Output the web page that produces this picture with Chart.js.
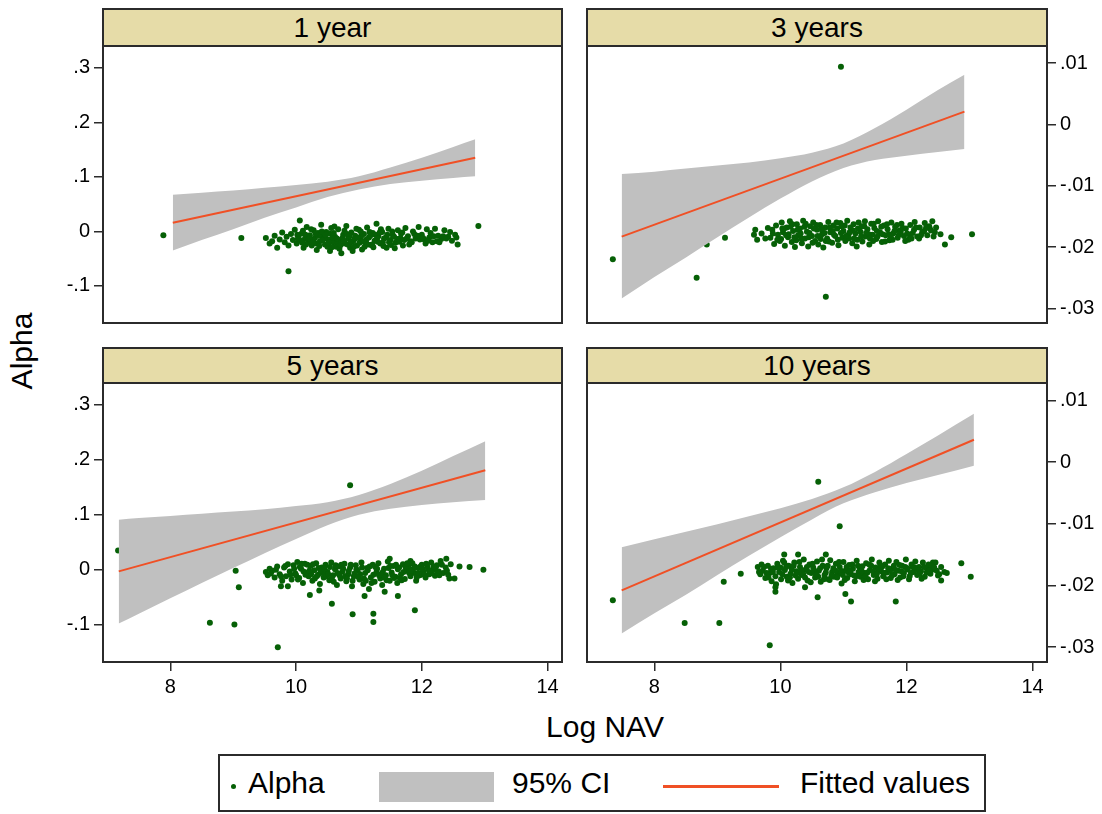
<!DOCTYPE html>
<html>
<head>
<meta charset="utf-8">
<script src="https://cdn.jsdelivr.net/npm/chart.js@4.4.1/dist/chart.umd.min.js"></script>
<style>
  body { margin: 0; background: #fff; width: 1102px; height: 814px; position: relative; overflow: hidden;
         font-family: "Liberation Sans", Arial, Helvetica, sans-serif; color: #000; }
  .box { position: absolute; line-height: 0; }
  .box canvas { display: block; }
  .strip { position: absolute; background: #e6dca8; border: 2px solid #2b2b2b; box-sizing: border-box;
           text-align: center; font-size: 28px; }
  .legend { position: absolute; left: 218px; top: 754px; width: 768px; height: 58px; border: 2px solid #2b2b2b;
            box-sizing: border-box; font-size: 30px; }
  .legend div { position: absolute; }
  .legend .txt { top: 0; line-height: 54px; }
</style>
</head>
<body>

<div class="strip" style="left:102px;top:8px;width:461px;height:39px;line-height:35px" id="t0"></div>
<div class="strip" style="left:586px;top:8px;width:462px;height:39px;line-height:35px" id="t1"></div>
<div class="strip" style="left:102px;top:347px;width:461px;height:37px;line-height:33px" id="t2"></div>
<div class="strip" style="left:586px;top:347px;width:462px;height:37px;line-height:33px" id="t3"></div>

<div class="box" style="left:40px;top:40px"><canvas id="c0" width="530" height="290"></canvas></div>
<div class="box" style="left:580px;top:40px"><canvas id="c1" width="522" height="290"></canvas></div>
<div class="box" style="left:40px;top:377px"><canvas id="c2" width="530" height="330"></canvas></div>
<div class="box" style="left:580px;top:377px"><canvas id="c3" width="522" height="330"></canvas></div>

<div class="box" style="left:-78px;top:334px;width:200px;height:34px;line-height:34px;text-align:center;font-size:30px;transform:rotate(-90deg)">Alpha</div>
<div class="box" style="left:505px;top:710px;width:200px;height:34px;line-height:34px;text-align:center;font-size:30px">Log NAV</div>

<div class="legend">
  <div style="left:11px;top:28px;width:5px;height:5px;border-radius:50%;background:#066006"></div>
  <div class="txt" style="left:28px">Alpha</div>
  <div style="left:159px;top:16px;width:115px;height:30px;background:#c0c0c0"></div>
  <div class="txt" style="left:292px">95% CI</div>
  <div style="left:443px;top:29px;width:116px;height:2.5px;background:#f05025"></div>
  <div class="txt" style="left:580px">Fitted values</div>
</div>

<script>
const panelTitles = ['1 year', '3 years', '5 years', '10 years'];

const xTicks = [8, 10, 12, 14];
const xTickLabels = ['8', '10', '12', '14'];
const yTicksLeft = [-0.1, 0, 0.1, 0.2, 0.3];
const yTickLabelsLeft = ['-.1', '0', '.1', '.2', '.3'];
const yTicksRight = [-0.03, -0.02, -0.01, 0, 0.01];
const yTickLabelsRight = ['-.03', '-.02', '-.01', '0', '.01'];

// scatter points [log NAV, alpha]
const alpha1y = [
  [7.89,-0.007],[9.13,-0.012],[9.88,-0.073],[12.90,0.010],
  [9.52,-0.012],[9.58,-0.022],[9.62,-0.018],[9.66,-0.008],[9.70,-0.030],[9.74,-0.015],[9.78,-0.002],[9.82,-0.020],
  [9.85,-0.010],[9.88,-0.026],[9.92,-0.005],[9.95,-0.016],[9.98,0.003],[10.01,-0.022],[10.04,-0.011],[10.06,0.020],
  [10.09,-0.004],[10.12,-0.030],[10.14,-0.014],[10.17,0.008],[10.20,-0.019],[10.22,-0.007],[10.25,-0.026],[10.28,0.002],
  [10.30,-0.012],[10.33,-0.034],[10.35,-0.003],[10.38,-0.018],[10.40,0.012],[10.43,-0.009],[10.46,-0.024],[10.48,-0.001],
  [10.51,-0.015],[10.54,-0.036],[10.56,0.006],[10.59,-0.020],[10.62,-0.010],[10.64,-0.028],[10.67,0.004],[10.70,-0.016],
  [10.72,-0.040],[10.75,-0.006],[10.78,-0.022],[10.80,0.010],[10.83,-0.013],[10.86,-0.030],[10.88,-0.002],[10.91,-0.018],
  [10.94,-0.008],[10.97,-0.026],[11.00,0.003],[11.02,-0.014],[11.05,-0.033],[11.08,-0.005],[11.11,-0.020],[11.13,0.007],
  [11.16,-0.011],[11.19,-0.025],[11.22,-0.003],[11.25,-0.017],[11.28,0.014],[11.31,-0.009],[11.34,-0.022],[11.37,-0.001],
  [11.40,-0.013],[11.44,-0.030],[11.47,0.005],[11.50,-0.016],[11.54,-0.007],[11.58,-0.021],[11.62,0.002],[11.66,-0.012],
  [11.70,-0.026],[11.74,0.006],[11.78,-0.009],[11.82,-0.018],[11.86,0.000],[11.90,-0.013],[11.95,0.008],[12.00,-0.006],
  [12.04,-0.015],[12.08,0.004],[12.12,-0.011],[12.17,-0.020],[12.21,0.005],[12.26,-0.008],[12.31,-0.014],[12.36,0.002],
  [12.42,-0.010],[12.48,-0.017],[12.53,-0.006],[12.57,-0.024],
  [10.02,-0.006],[10.07,-0.017],[10.11,0.001],[10.16,-0.024],[10.19,-0.010],[10.24,0.004],[10.27,-0.016],[10.32,-0.022],
  [10.36,-0.008],[10.41,0.000],[10.45,-0.013],[10.50,-0.028],[10.53,-0.004],[10.58,-0.011],[10.61,0.009],[10.66,-0.019],
  [10.69,-0.032],[10.74,-0.012],[10.77,0.001],[10.82,-0.024],[10.85,-0.009],[10.90,-0.036],[10.93,-0.014],[10.96,0.005],
  [11.01,-0.021],[11.04,-0.008],[11.09,-0.028],[11.12,-0.015],[11.17,-0.001],[11.21,-0.024],[11.26,-0.006],[11.30,-0.019],
  [11.35,0.004],[11.39,-0.027],[11.43,-0.011],[11.48,-0.020],[11.53,0.000],[11.57,-0.031],[11.61,-0.014],[11.67,-0.004],
  [11.72,-0.016],[11.80,-0.024],[11.88,-0.005],[11.97,-0.015],[12.06,-0.022],[12.14,-0.003],[12.24,-0.018],[12.34,-0.009],
  [12.45,-0.001],[12.55,-0.011],
  [10.03,-0.014],[10.10,-0.021],[10.15,-0.006],[10.21,-0.013],[10.26,-0.020],[10.31,-0.004],[10.37,-0.027],[10.42,-0.016],
  [10.47,-0.006],[10.52,-0.021],[10.57,-0.029],[10.60,-0.003],[10.65,-0.013],[10.71,-0.025],[10.76,-0.017],[10.81,-0.005],
  [10.87,-0.020],[10.92,-0.028],[10.98,-0.011],[11.03,0.000],[11.07,-0.018],[11.14,-0.024],[11.18,-0.008],[11.23,-0.029],
  [11.29,-0.012],[11.33,-0.002],[11.38,-0.020],[11.45,-0.006],[11.51,-0.025],[11.56,-0.010],[11.64,-0.019],[11.69,-0.002],
  [11.76,-0.013],[11.84,-0.020],[11.93,-0.008],[12.02,-0.012],[12.10,-0.017],[12.19,-0.009],[12.28,-0.020],[12.39,-0.013]
];

const alpha3y = [
  [7.34,-0.0220],[8.67,-0.0250],[8.83,-0.0196],[9.12,-0.0185],[10.96,0.0094],[10.72,-0.0281],[13.04,-0.0179],
  [12.71,-0.0184],[12.61,-0.0196],[12.54,-0.0179],
  [9.58,-0.0180],[9.60,-0.0172],[9.63,-0.0188],[9.70,-0.0178],[9.76,-0.0186],[9.80,-0.0169],
  [9.84,-0.0185],[9.87,-0.0172],[9.90,-0.0195],[9.93,-0.0165],[9.96,-0.0180],[9.99,-0.0190],[10.02,-0.0160],[10.04,-0.0176],
  [10.07,-0.0198],[10.10,-0.0168],[10.12,-0.0184],[10.15,-0.0158],[10.18,-0.0192],[10.20,-0.0174],[10.23,-0.0200],[10.26,-0.0163],
  [10.28,-0.0181],[10.31,-0.0170],[10.34,-0.0194],[10.36,-0.0157],[10.39,-0.0186],[10.42,-0.0175],[10.44,-0.0199],[10.47,-0.0166],
  [10.50,-0.0182],[10.52,-0.0160],[10.55,-0.0190],[10.58,-0.0172],[10.60,-0.0196],[10.63,-0.0164],[10.66,-0.0179],[10.68,-0.0201],
  [10.71,-0.0168],[10.74,-0.0186],[10.76,-0.0159],[10.79,-0.0176],[10.82,-0.0193],[10.84,-0.0165],[10.87,-0.0182],[10.90,-0.0170],
  [10.92,-0.0197],[10.95,-0.0161],[10.98,-0.0185],[11.00,-0.0174],[11.03,-0.0190],[11.06,-0.0157],[11.08,-0.0180],[11.11,-0.0168],
  [11.14,-0.0194],[11.16,-0.0163],[11.19,-0.0178],[11.22,-0.0188],[11.24,-0.0160],[11.27,-0.0175],[11.30,-0.0191],[11.33,-0.0166],
  [11.35,-0.0183],[11.38,-0.0171],[11.41,-0.0196],[11.44,-0.0162],[11.46,-0.0180],[11.49,-0.0169],[11.52,-0.0187],[11.55,-0.0158],
  [11.58,-0.0176],[11.61,-0.0192],[11.64,-0.0165],[11.67,-0.0181],[11.70,-0.0171],[11.73,-0.0189],[11.76,-0.0160],[11.79,-0.0178],
  [11.82,-0.0167],[11.86,-0.0185],[11.89,-0.0173],[11.92,-0.0162],[11.96,-0.0182],[11.99,-0.0170],[12.03,-0.0188],[12.06,-0.0164],
  [12.10,-0.0177],[12.13,-0.0159],[12.17,-0.0183],[12.21,-0.0168],[12.25,-0.0176],[12.29,-0.0161],[12.33,-0.0181],[12.37,-0.0170],
  [12.41,-0.0158],[12.45,-0.0176],
  [10.01,-0.0187],[10.06,-0.0170],[10.13,-0.0179],[10.19,-0.0163],[10.25,-0.0189],[10.32,-0.0178],[10.38,-0.0167],[10.45,-0.0184],
  [10.51,-0.0193],[10.57,-0.0164],[10.64,-0.0187],[10.70,-0.0177],[10.77,-0.0191],[10.83,-0.0174],[10.89,-0.0160],[10.96,-0.0177],
  [11.02,-0.0165],[11.09,-0.0186],[11.15,-0.0173],[11.21,-0.0199],[11.28,-0.0183],[11.34,-0.0158],[11.40,-0.0179],[11.47,-0.0190],
  [11.53,-0.0174],[11.60,-0.0167],[11.66,-0.0191],[11.72,-0.0179],[11.78,-0.0188],[11.85,-0.0164],[11.91,-0.0175],[11.98,-0.0190],
  [12.05,-0.0180],[12.12,-0.0172],[12.20,-0.0186],[12.28,-0.0174],[12.36,-0.0166],[12.43,-0.0183],
  [9.88,-0.0178],[9.95,-0.0188],[10.03,-0.0170],[10.09,-0.0181],[10.16,-0.0167],[10.22,-0.0184],[10.27,-0.0172],[10.33,-0.0186],
  [10.40,-0.0162],[10.46,-0.0177],[10.53,-0.0170],[10.59,-0.0182],[10.65,-0.0171],[10.72,-0.0190],[10.78,-0.0168],[10.85,-0.0180],
  [10.91,-0.0188],[10.97,-0.0166],[11.04,-0.0182],[11.10,-0.0176],[11.17,-0.0186],[11.23,-0.0170],[11.29,-0.0166],[11.36,-0.0177],
  [11.42,-0.0186],[11.48,-0.0162],[11.54,-0.0183],[11.62,-0.0179],[11.69,-0.0163],[11.75,-0.0183],[11.81,-0.0174],[11.88,-0.0180],
  [11.94,-0.0169],[12.01,-0.0178],[12.08,-0.0186],[12.15,-0.0168],[12.23,-0.0181],[12.31,-0.0169],[12.39,-0.0173],[12.47,-0.0168]
];

const alpha5y = [
  [7.17,0.035],[8.63,-0.0965],[9.02,-0.0995],[9.04,-0.002],[9.09,-0.032],[9.71,-0.141],[10.86,0.154],[12.98,0.000],
  [9.76,-0.030],[9.87,-0.030],[10.22,-0.046],[10.37,-0.038],[10.57,-0.062],[10.90,-0.081],[11.09,-0.048],[11.23,-0.080],
  [11.23,-0.095],[11.41,-0.040],[11.62,-0.048],[11.89,-0.074],[12.39,0.020],[11.49,0.020],[11.82,0.016],[12.44,-0.016],
  [12.52,-0.016],[12.60,0.006],[12.76,0.005],
  [9.52,-0.004],[9.55,-0.010],[9.58,0.002],[9.62,-0.002],[9.66,-0.014],[9.70,0.006],[9.74,-0.008],[9.78,-0.020],
  [9.81,0.004],[9.84,-0.012],[9.87,0.010],[9.90,-0.003],[9.93,-0.018],[9.96,0.008],[9.99,-0.007],[10.02,0.014],
  [10.05,-0.015],[10.08,0.002],[10.11,-0.024],[10.14,0.011],[10.17,-0.006],[10.20,-0.012],[10.23,0.007],[10.26,-0.020],
  [10.29,-0.001],[10.32,0.012],[10.35,-0.009],[10.38,-0.026],[10.41,0.004],[10.44,-0.014],[10.47,0.009],[10.50,-0.004],
  [10.53,-0.019],[10.56,0.013],[10.59,-0.010],[10.62,0.001],[10.65,-0.028],[10.68,0.006],[10.71,-0.016],[10.74,-0.003],
  [10.77,0.011],[10.80,-0.021],[10.83,-0.008],[10.86,0.004],[10.89,-0.030],[10.92,-0.012],[10.95,0.008],[10.98,-0.002],
  [11.01,-0.018],[11.04,0.013],[11.07,-0.026],[11.10,-0.006],[11.13,0.003],[11.16,-0.035],[11.19,-0.014],[11.22,0.009],
  [11.25,-0.022],[11.28,-0.004],[11.31,0.012],[11.34,-0.016],[11.37,-0.028],[11.40,0.002],[11.43,-0.010],[11.46,0.015],
  [11.49,-0.020],[11.52,-0.005],[11.55,0.007],[11.58,-0.013],[11.61,-0.024],[11.64,0.004],[11.67,-0.008],[11.70,0.010],
  [11.73,-0.017],[11.76,-0.002],[11.79,0.006],[11.82,-0.012],[11.85,0.012],[11.88,-0.006],[11.91,-0.020],[11.94,0.003],
  [11.97,-0.010],[12.00,0.009],[12.03,-0.004],[12.06,-0.014],[12.09,0.006],[12.12,-0.008],[12.15,0.013],[12.18,0.000],
  [12.21,-0.011],[12.24,0.008],[12.27,-0.003],[12.30,0.016],[12.34,-0.006],[12.38,0.004],[12.42,-0.009],[12.46,0.010],
  [10.00,-0.010],[10.06,0.005],[10.12,-0.003],[10.18,0.009],[10.24,-0.008],[10.30,-0.016],[10.36,0.003],[10.42,-0.006],
  [10.48,-0.012],[10.54,0.005],[10.60,-0.022],[10.66,-0.006],[10.72,0.009],[10.78,-0.012],[10.84,-0.002],[10.90,-0.020],
  [10.96,0.001],[11.02,-0.008],[11.08,-0.016],[11.14,-0.001],[11.20,-0.024],[11.26,0.005],[11.32,-0.010],[11.38,-0.004],
  [11.44,-0.019],[11.50,0.007],[11.56,-0.015],[11.62,0.001],[11.68,-0.019],[11.74,0.005],[11.80,-0.006],[11.86,0.001],
  [11.92,-0.014],[11.98,0.006],[12.04,-0.009],[12.10,0.001],[12.16,-0.006],[12.22,0.003],[12.28,-0.010],
  [9.60,-0.007],[9.68,0.000],[9.76,-0.012],[9.83,0.007],[9.91,-0.009],[9.97,0.002],[10.03,-0.018],[10.09,0.011],
  [10.15,-0.009],[10.21,-0.002],[10.27,0.010],[10.33,-0.012],[10.39,-0.002],[10.45,0.002],[10.51,-0.008],[10.57,-0.015],
  [10.63,0.008],[10.69,-0.010],[10.75,0.002],[10.81,-0.016],[10.87,0.009],[10.93,-0.007],[10.99,-0.013],[11.05,0.004],
  [11.11,-0.020],[11.17,0.006],[11.23,-0.009],[11.29,0.002],[11.35,-0.008],[11.41,-0.014],[11.47,0.003],[11.53,-0.010],
  [11.59,0.009],[11.65,-0.015],[11.71,-0.004],[11.77,0.012],[11.83,-0.002],[11.89,0.006],[11.95,-0.006],[12.01,0.002],
  [12.07,0.011],[12.13,-0.002],[12.19,0.006],[12.25,-0.006],[12.32,0.009],[12.40,-0.002]
];

const alpha10y = [
  [7.34,-0.0224],[8.48,-0.0261],[9.03,-0.0261],[9.83,-0.0297],[9.10,-0.0194],[9.37,-0.0181],[10.60,-0.0032],[10.94,-0.0104],
  [10.59,-0.0219],[11.03,-0.0214],[11.12,-0.0226],[11.83,-0.0226],[9.92,-0.0210],[9.92,-0.0203],[10.39,-0.0203],
  [10.06,-0.0150],[10.28,-0.0150],[10.72,-0.0150],[12.42,-0.0163],[12.55,-0.0192],[12.87,-0.0164],[13.02,-0.0186],
  [9.64,-0.0170],[9.68,-0.0182],[9.72,-0.0176],[9.76,-0.0188],[9.80,-0.0168],[9.83,-0.0180],[9.86,-0.0193],[9.89,-0.0172],
  [9.92,-0.0185],[9.95,-0.0165],[9.98,-0.0178],[10.01,-0.0190],[10.04,-0.0160],[10.07,-0.0175],[10.10,-0.0186],[10.13,-0.0168],
  [10.16,-0.0181],[10.19,-0.0196],[10.22,-0.0163],[10.25,-0.0177],[10.28,-0.0189],[10.31,-0.0170],[10.34,-0.0183],[10.37,-0.0158],
  [10.40,-0.0174],[10.43,-0.0192],[10.46,-0.0166],[10.49,-0.0180],[10.52,-0.0171],[10.55,-0.0187],[10.58,-0.0161],[10.61,-0.0176],
  [10.64,-0.0194],[10.67,-0.0168],[10.70,-0.0183],[10.73,-0.0172],[10.76,-0.0190],[10.79,-0.0159],[10.82,-0.0178],[10.85,-0.0186],
  [10.88,-0.0165],[10.91,-0.0181],[10.94,-0.0170],[10.97,-0.0197],[11.00,-0.0162],[11.03,-0.0176],[11.06,-0.0188],[11.09,-0.0167],
  [11.12,-0.0182],[11.15,-0.0173],[11.18,-0.0193],[11.21,-0.0160],[11.24,-0.0178],[11.27,-0.0186],[11.30,-0.0169],[11.33,-0.0180],
  [11.36,-0.0164],[11.39,-0.0190],[11.42,-0.0175],[11.45,-0.0158],[11.48,-0.0183],[11.51,-0.0171],[11.54,-0.0189],[11.57,-0.0163],
  [11.60,-0.0177],[11.63,-0.0185],[11.66,-0.0166],[11.69,-0.0179],[11.72,-0.0160],[11.75,-0.0188],[11.78,-0.0172],[11.81,-0.0182],
  [11.84,-0.0162],[11.87,-0.0176],[11.90,-0.0187],[11.93,-0.0168],[11.96,-0.0180],[11.99,-0.0158],[12.02,-0.0174],[12.05,-0.0185],
  [12.08,-0.0166],[12.11,-0.0178],[12.14,-0.0161],[12.17,-0.0183],[12.20,-0.0170],[12.23,-0.0177],[12.26,-0.0163],[12.29,-0.0186],
  [12.32,-0.0172],[12.35,-0.0166],[12.38,-0.0181],[12.42,-0.0174],[12.46,-0.0163],[12.50,-0.0184],[12.55,-0.0170],[12.60,-0.0178],
  [12.64,-0.0180],
  [9.70,-0.0166],[9.78,-0.0180],[9.85,-0.0173],[9.93,-0.0198],[10.00,-0.0171],[10.06,-0.0163],[10.12,-0.0192],[10.18,-0.0174],
  [10.24,-0.0184],[10.30,-0.0162],[10.36,-0.0181],[10.42,-0.0170],[10.48,-0.0195],[10.54,-0.0176],[10.60,-0.0186],[10.66,-0.0158],
  [10.72,-0.0179],[10.78,-0.0191],[10.84,-0.0172],[10.90,-0.0187],[10.96,-0.0176],[11.02,-0.0191],[11.08,-0.0179],[11.14,-0.0166],
  [11.20,-0.0185],[11.26,-0.0172],[11.32,-0.0191],[11.38,-0.0179],[11.44,-0.0168],[11.50,-0.0193],[11.56,-0.0175],[11.62,-0.0169],
  [11.68,-0.0190],[11.74,-0.0176],[11.80,-0.0168],[11.86,-0.0191],[11.92,-0.0177],[11.98,-0.0170],[12.04,-0.0190],[12.10,-0.0170],
  [12.18,-0.0175],[12.24,-0.0189],[12.32,-0.0179],[12.40,-0.0169],[12.48,-0.0176],
  [9.66,-0.0178],[9.74,-0.0170],[9.81,-0.0187],[9.88,-0.0178],[9.96,-0.0171],[10.03,-0.0182],[10.09,-0.0170],[10.15,-0.0187],
  [10.21,-0.0168],[10.27,-0.0180],[10.33,-0.0175],[10.39,-0.0187],[10.45,-0.0178],[10.51,-0.0165],[10.57,-0.0182],[10.63,-0.0172],
  [10.69,-0.0190],[10.75,-0.0168],[10.81,-0.0184],[10.87,-0.0176],[10.93,-0.0162],[10.99,-0.0183],[11.05,-0.0170],[11.11,-0.0176],
  [11.17,-0.0184],[11.23,-0.0168],[11.29,-0.0177],[11.35,-0.0185],[11.41,-0.0166],[11.47,-0.0177],[11.53,-0.0181],[11.59,-0.0168],
  [11.65,-0.0180],[11.71,-0.0172],[11.77,-0.0184],[11.83,-0.0175],[11.89,-0.0167],[11.95,-0.0185],[12.01,-0.0172],[12.07,-0.0180],
  [12.13,-0.0171],[12.21,-0.0181],[12.28,-0.0170],[12.36,-0.0176],[12.44,-0.0171],[12.52,-0.0182]
];

// fitted lines and 95% CI bands
const fit1y = [[8.04, 0.016], [12.85, 0.135]];
const ci1yX = [8.04, 8.5, 9, 9.5, 10, 10.5, 11, 11.5, 12, 12.5, 12.85];
const ci1yUpper = [0.067, 0.071, 0.075, 0.080, 0.085, 0.091, 0.101, 0.117, 0.135, 0.155, 0.169];
const ci1yLower = [-0.035, -0.016, 0.004, 0.025, 0.044, 0.063, 0.077, 0.087, 0.093, 0.098, 0.101];

const fit3y = [[7.48, -0.0183], [12.92, 0.0021]];
const ci3yX = [7.48, 8, 8.5, 9, 9.5, 10, 10.5, 11, 11.5, 12, 12.5, 12.92];
const ci3yUpper = [-0.0081, -0.0077, -0.0072, -0.0067, -0.0062, -0.0055, -0.0046, -0.0031, -0.0006, 0.0024, 0.0056, 0.0081];
const ci3yLower = [-0.0284, -0.0249, -0.0217, -0.0184, -0.0152, -0.0121, -0.0093, -0.0071, -0.0058, -0.0051, -0.0045, -0.0040];

const fit5y = [[7.18, -0.003], [13.01, 0.181]];
const ci5yX = [7.18, 7.5, 8, 8.5, 9, 9.5, 10, 10.5, 11, 11.5, 12, 12.5, 13.01];
const ci5yUpper = [0.091, 0.094, 0.098, 0.102, 0.106, 0.110, 0.116, 0.123, 0.136, 0.156, 0.180, 0.207, 0.234];
const ci5yLower = [-0.098, -0.080, -0.052, -0.024, 0.003, 0.030, 0.056, 0.081, 0.100, 0.111, 0.118, 0.123, 0.127];

const fit10y = [[7.48, -0.0208], [13.07, 0.0036]];
const ci10yX = [7.48, 8, 8.5, 9, 9.5, 10, 10.5, 11, 11.5, 12, 12.5, 13.07];
const ci10yUpper = [-0.0138, -0.0125, -0.0113, -0.0101, -0.0088, -0.0075, -0.0060, -0.0041, -0.0016, 0.0013, 0.0043, 0.0078];
const ci10yLower = [-0.0278, -0.0245, -0.0215, -0.0183, -0.0152, -0.0122, -0.0093, -0.0067, -0.0049, -0.0034, -0.0021, -0.0006];

const green = '#066006';
const gray = '#c0c0c0';
const orange = '#f05025';
const axisColor = '#2b2b2b';

Chart.defaults.font.family = '"Liberation Sans", Arial, Helvetica, sans-serif';
Chart.defaults.font.size = 20;

const frame = {
  id: 'frame',
  afterDraw(chart) {
    const { ctx, chartArea: a } = chart;
    ctx.save();
    ctx.strokeStyle = axisColor;
    ctx.lineWidth = 2;
    ctx.strokeRect(a.left, a.top, a.right - a.left, a.bottom - a.top);
    ctx.restore();
  }
};

const toPts = pairs => pairs.map(p => ({ x: p[0], y: p[1] }));
const bandPts = (xs, ys) => xs.map((x, i) => ({ x, y: ys[i] }));

// kill the automatic label-overflow padding so the plot box lands where we ask
function noPad(ax) {
  ax.paddingTop = 0; ax.paddingBottom = 0; ax.paddingLeft = 0; ax.paddingRight = 0;
}

function makePanel(id, o) {
  const right = o.side === 'right';
  const tickFont = { size: 20 };
  const grid = { drawOnChartArea: false, drawTicks: true, tickLength: 9, color: axisColor, tickColor: axisColor, lineWidth: 1.5 };
  return new Chart(document.getElementById(id), {
    type: 'scatter',
    data: {
      datasets: [
        { data: toPts(o.points), backgroundColor: green, borderWidth: 0, pointRadius: 3, order: 3 },
        { type: 'line', data: bandPts(o.ciX, o.upper), fill: '+1', backgroundColor: gray, borderColor: 'transparent',
          borderWidth: 0, pointRadius: 0, cubicInterpolationMode: 'monotone', order: 2 },
        { type: 'line', data: bandPts(o.ciX, o.lower), fill: false, borderColor: 'transparent',
          borderWidth: 0, pointRadius: 0, cubicInterpolationMode: 'monotone', order: 2 },
        { type: 'line', data: toPts(o.fit), borderColor: orange, borderWidth: 2, pointRadius: 0, fill: false, order: 1 }
      ]
    },
    options: {
      responsive: false,
      animation: false,
      events: [],
      layout: { padding: o.padding },
      plugins: { legend: { display: false }, tooltip: { enabled: false } },
      scales: {
        x: {
          type: 'linear', display: o.showX, min: 6.93, max: 14.23,
          afterBuildTicks: ax => { ax.ticks = xTicks.map(v => ({ value: v })); },
          afterFit: ax => { ax.height = o.showX ? 45 : 0; noPad(ax); },
          ticks: { color: '#000', font: tickFont, padding: 4, maxRotation: 0, autoSkip: false,
                   callback: (v, i) => xTickLabels[i] },
          grid, border: { display: false }
        },
        y: {
          type: 'linear', position: right ? 'right' : 'left', min: o.yMin, max: o.yMax,
          afterBuildTicks: ax => { ax.ticks = o.yTicks.map(v => ({ value: v })); },
          afterFit: ax => { ax.width = right ? 55 : 63; noPad(ax); },
          ticks: { color: '#000', font: tickFont, padding: 4, autoSkip: false,
                   callback: (v, i) => o.yLabels[i] },
          grid, border: { display: false }
        }
      }
    },
    plugins: [frame]
  });
}

panelTitles.forEach((t, i) => { document.getElementById('t' + i).textContent = t; });

const leftAxis = { yMin: -0.168, yMax: 0.340, yTicks: yTicksLeft, yLabels: yTickLabelsLeft, side: 'left' };
const rightAxis = { yMin: -0.0324, yMax: 0.0128, yTicks: yTicksRight, yLabels: yTickLabelsRight, side: 'right' };

makePanel('c0', { ...leftAxis, showX: false, padding: { top: 6, right: 8, bottom: 7, left: 0 },
  points: alpha1y, fit: fit1y, ciX: ci1yX, upper: ci1yUpper, lower: ci1yLower });
makePanel('c1', { ...rightAxis, showX: false, padding: { top: 6, right: 0, bottom: 7, left: 7 },
  points: alpha3y, fit: fit3y, ciX: ci3yX, upper: ci3yUpper, lower: ci3yLower });
makePanel('c2', { ...leftAxis, showX: true, padding: { top: 6, right: 8, bottom: 0, left: 0 },
  points: alpha5y, fit: fit5y, ciX: ci5yX, upper: ci5yUpper, lower: ci5yLower });
makePanel('c3', { ...rightAxis, showX: true, padding: { top: 6, right: 0, bottom: 0, left: 7 },
  points: alpha10y, fit: fit10y, ciX: ci10yX, upper: ci10yUpper, lower: ci10yLower });
</script>
</body>
</html>
